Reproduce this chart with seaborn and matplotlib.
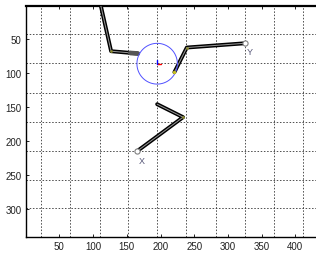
import numpy as np
import pandas as pd
import matplotlib
matplotlib.use("Agg")
import matplotlib.pyplot as plt
import seaborn as sns

# ---- data (image-like coordinates, y grows downward) ----
upper_x = [109.0, 126.7, 166.3]
upper_y = [-10.0, 67.6, 71.0]
grip_x = [155.0, 166.3]
grip_y = [70.2, 71.0]
right_x = [220.6, 239.0, 325.5]
right_y = [98.5, 62.2, 55.9]
lower_x = [195.0, 233.5, 165.3]
lower_y = [145.6, 164.7, 214.7]
circle_center = (195.0, 86.0)
circle_radius = 30.0
frame_len = 6.0
end_labels = ["Y", "X"]
end_x = [325.5, 165.3]
end_y = [55.9, 214.7]
label_x = [333.0, 171.5]
label_y = [67.5, 229.0]
grid_x = [22.8, 65.9, 110.0, 152.5, 195.5, 238.5, 282.0, 325.0, 368.5, 411.7]
grid_y = [42.6, 85.3, 128.5, 171.5, 214.5, 256.5, 299.0]
xticks = [50, 100, 150, 200, 250, 300, 350, 400]
yticks = [50, 100, 150, 200, 250, 300]

sns.set_style("white")
plt.rcParams["font.family"] = ["Liberation Sans", "DejaVu Sans"]

fig = plt.figure(figsize=(3.16, 2.55), dpi=100)
ax = fig.add_axes([25.7 / 316, 16.7 / 255, 296.6 / 316, 231.0 / 255])

# dashed grid
for gx in grid_x:
    ax.axvline(gx, color="#222222", lw=0.55, ls=(0, (2.0, 2.2)), zorder=1)
for gy in grid_y:
    ax.axhline(gy, color="#222222", lw=0.55, ls=(0, (2.0, 2.2)), zorder=1)

def chain(xs, ys):
    df = pd.DataFrame({"x": xs, "y": ys})
    sns.lineplot(data=df, x="x", y="y", sort=False, estimator=None,
                 color="black", lw=2.8, ax=ax, zorder=3)
    sns.lineplot(data=df, x="x", y="y", sort=False, estimator=None,
                 color="#9a9a9a", lw=0.7, ax=ax, zorder=4)

chain(upper_x, upper_y)
chain(right_x, right_y)
chain(lower_x, lower_y)

# gripper segment
sns.lineplot(x=grip_x, y=grip_y, sort=False, estimator=None,
             color="#555555", lw=3.4, ax=ax, zorder=5)

# circle
theta = np.linspace(0, 2 * np.pi, 200)
cx = circle_center[0] + circle_radius * np.cos(theta)
cy = circle_center[1] + circle_radius * np.sin(theta)
sns.lineplot(x=cx, y=cy, sort=False, estimator=None, color="#5050ff",
             lw=0.7, ax=ax, zorder=6)
# small frame at center
ax.plot([circle_center[0], circle_center[0] + frame_len],
        [circle_center[1], circle_center[1]], color="red", lw=1.0, zorder=7)
ax.plot([circle_center[0], circle_center[0]],
        [circle_center[1], circle_center[1] - frame_len], color="blue", lw=1.0, zorder=7)

# joint dots
sns.scatterplot(x=[upper_x[1], right_x[1], lower_x[1]],
                y=[upper_y[1], right_y[1], lower_y[1]],
                color="#8a8a30", s=4, linewidth=0, ax=ax, zorder=8)
sns.scatterplot(x=[right_x[0]], y=[right_y[0]], color="#c8c020", s=6,
                linewidth=0, ax=ax, zorder=8)

# end markers and labels
sns.scatterplot(x=end_x, y=end_y, marker="o", s=14, facecolor="white",
                edgecolor="#808080", linewidth=0.8, ax=ax, zorder=9)
for lab, lx, ly in zip(end_labels, label_x, label_y):
    ax.text(lx, ly, lab, fontsize=6.5, color="#555577", ha="center",
            va="center", zorder=9)

ax.set_xlim(0, 440)
ax.set_ylim(341.5, 1.5)
ax.set_xticks(xticks)
ax.set_yticks(yticks)
ax.set_xlabel("")
ax.set_ylabel("")
ax.tick_params(direction="in", length=2.5, width=0.6, labelsize=7,
               top=True, right=True, bottom=True, left=True, pad=3,
               colors="black", labelcolor="#222222")
for name, sp in ax.spines.items():
    sp.set_visible(True)
    sp.set_color("black")
    sp.set_linewidth(1.0)
ax.spines["top"].set_linewidth(1.6)
ax.grid(False)
ax.set_facecolor("white")
fig.patch.set_facecolor("white")

fig.savefig("out.png", dpi=100)
